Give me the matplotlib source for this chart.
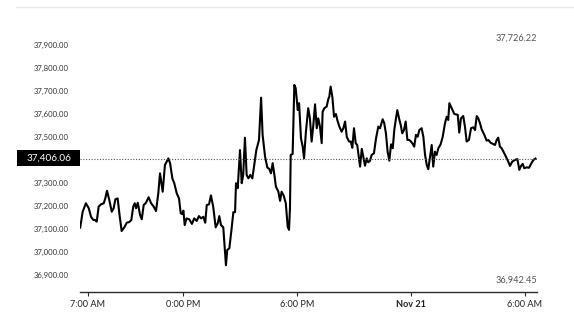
import matplotlib
matplotlib.use("Agg")
import matplotlib.pyplot as plt
from matplotlib.patches import Rectangle
from matplotlib.lines import Line2D

plt.rcParams['font.family'] = ['Lato', 'DejaVu Sans']

# hours since Nov 20 00:00
hours = [6.59, 6.72, 6.89, 7.04, 7.16, 7.28, 7.38, 7.46, 7.56, 7.68, 7.83, 7.91, 8.00, 8.12, 8.25,
         8.35, 8.44, 8.56, 8.65, 8.77, 8.91, 9.04, 9.17, 9.28, 9.38, 9.46, 9.53, 9.62, 9.74, 9.83,
         9.93, 10.05, 10.19, 10.32, 10.46, 10.58, 10.70, 10.79, 10.93, 11.05, 11.23, 11.32, 11.44,
         11.54, 11.67, 11.79, 11.88, 11.96, 12.02, 12.09, 12.19, 12.33, 12.47, 12.59, 12.72, 12.84,
         12.95, 13.07, 13.17, 13.25, 13.37, 13.47, 13.59, 13.72, 13.83, 13.91, 14.00, 14.12, 14.26,
         14.33, 14.44, 14.56, 14.65, 14.74, 14.79, 14.88, 15.00, 15.09, 15.17, 15.26, 15.35, 15.44,
         15.54, 15.65, 15.75, 15.86, 16.00, 16.11, 16.19, 16.32, 16.44, 16.54, 16.63, 16.72, 16.81,
         16.89, 17.02, 17.11, 17.19, 17.30, 17.41, 17.51, 17.58, 17.63, 17.67, 17.77, 17.86, 17.93,
         18.04, 18.11, 18.21, 18.30, 18.37, 18.47, 18.59, 18.68, 18.77, 18.86, 18.95, 19.04, 19.12,
         19.21, 19.30, 19.35, 19.44, 19.56, 19.65, 19.70, 19.77, 19.86, 19.95, 20.05, 20.12, 20.23,
         20.35, 20.44, 20.53, 20.62, 20.74, 20.83, 20.91, 21.00, 21.09, 21.17, 21.26, 21.32, 21.41,
         21.49, 21.58, 21.67, 21.75, 21.84, 21.93, 22.05, 22.16, 22.28, 22.37, 22.51, 22.59, 22.68,
         22.77, 22.86, 22.95, 23.04, 23.12, 23.21, 23.28, 23.37, 23.46, 23.54, 23.63, 23.72, 23.81,
         23.91, 24.00, 24.09, 24.17, 24.26, 24.35, 24.44, 24.56, 24.65, 24.74, 24.83, 24.91, 25.00,
         25.09, 25.17, 25.26, 25.35, 25.44, 25.56, 25.67, 25.79, 25.88, 25.96, 26.02, 26.14, 26.28,
         26.46, 26.54, 26.63, 26.75, 26.84, 26.93, 27.05, 27.16, 27.28, 27.37, 27.46, 27.54, 27.63,
         27.72, 27.86, 27.98, 28.07, 28.19, 28.30, 28.42, 28.51, 28.59, 28.68, 28.77, 28.91, 29.04,
         29.12, 29.21, 29.33, 29.47, 29.60, 29.70, 29.79, 29.88, 29.96, 30.09, 30.21, 30.32, 30.44,
         30.55]

prices = [37106, 37175, 37212, 37190, 37153, 37139, 37139, 37132, 37197, 37207, 37212, 37233, 37266, 37226, 37175,
          37190, 37229, 37233, 37168, 37091, 37107, 37127, 37130, 37139, 37197, 37212, 37190, 37214, 37161, 37142,
          37204, 37214, 37238, 37212, 37197, 37178, 37255, 37342, 37262, 37378, 37407, 37386, 37320,
          37299, 37255, 37233, 37168, 37165, 37180, 37117, 37146, 37142, 37122, 37146, 37135, 37156,
          37146, 37153, 37127, 37204, 37207, 37246, 37197, 37107, 37125, 37156, 37117, 37107, 36942.45,
          37009, 37016, 37103, 37173, 37173, 37299, 37277, 37443, 37299, 37335, 37497, 37335, 37320,
          37335, 37320, 37378, 37443, 37487, 37671, 37509, 37414, 37367, 37361, 37342, 37386, 37335,
          37284, 37262, 37222, 37262, 37245, 37212, 37110, 37096, 37190, 37422, 37426, 37726.22, 37712,
          37617, 37647, 37494, 37458, 37407, 37523, 37625, 37581, 37480, 37552, 37642, 37538, 37581,
          37545, 37473, 37610, 37625, 37632, 37665, 37675, 37719, 37675, 37588, 37600, 37574, 37545,
          37523, 37538, 37567, 37501, 37480, 37480, 37453, 37538, 37473, 37465, 37407, 37371, 37448,
          37414, 37375, 37407, 37390, 37396, 37422, 37429, 37494, 37545, 37538, 37577, 37560, 37516,
          37436, 37397, 37468, 37451, 37530, 37581, 37617, 37581, 37552, 37516, 37530, 37567, 37487,
          37487, 37480, 37470, 37458, 37509, 37501, 37530, 37538, 37501, 37422, 37378, 37360, 37414,
          37465, 37371, 37436, 37422, 37451, 37468, 37501, 37560, 37588, 37574, 37647, 37625, 37600,
          37596, 37519, 37581, 37591, 37545, 37480, 37487, 37538, 37542, 37530, 37591, 37581, 37560,
          37533, 37509, 37484, 37487, 37475, 37470, 37465, 37487, 37497, 37458, 37451, 37429, 37407,
          37393, 37374, 37393, 37400, 37404, 37357, 37374, 37383, 37364, 37368, 37366, 37383, 37400,
          37406.06]

last_price = 37406.06
high_label = "37,726.22"
low_label = "36,942.45"
ytick_vals = [36900, 37000, 37100, 37200, 37300, 37500, 37600, 37700, 37800, 37900]
xtick_hours = [7, 12, 18, 24, 30]
xtick_labels = ["7:00 AM", "0:00 PM", "6:00 PM", "Nov 21", "6:00 AM"]

W, H = 574, 322
fig = plt.figure(figsize=(W / 100, H / 100), dpi=100)
ax = fig.add_axes([80 / W, 1 - 292 / H, 457 / W, 262 / H])

ax.plot(hours, prices, color="black", lw=1.5, solid_joinstyle="round")
ax.axhline(last_price, color="#555555", lw=0.8, ls=(0, (1, 1.5)))

ax.set_xlim(6.579, 30.632)
ax.set_ylim(36826, 37965)

for s in ["left", "right", "top"]:
    ax.spines[s].set_visible(False)
ax.spines["bottom"].set_color("#2a2a3a")
ax.spines["bottom"].set_linewidth(1.0)

ax.set_yticks(ytick_vals)
ax.set_yticklabels([f"{v:,.2f}" for v in ytick_vals], fontsize=5.6, color="#333333")
ax.tick_params(axis="y", length=0, pad=8)

ax.set_xticks(xtick_hours)
ax.set_xticklabels(xtick_labels, fontsize=6.6, color="#222222")
ax.tick_params(axis="x", length=3, width=0.8, color="#2a2a3a", pad=3)
ax.get_xticklabels()[3].set_fontweight("bold")

# last price tag
fig.patches.append(Rectangle((17 / W, 1 - 166 / H), 63 / W, 16 / H, transform=fig.transFigure,
                             facecolor="black", edgecolor="none"))
fig.text(48.5 / W, 1 - 158 / H, f"{last_price:,.2f}", color="white", fontsize=7.2,
         ha="center", va="center")

fig.text(537 / W, 1 - 38 / H, high_label, color="#555555", fontsize=6.6, ha="right", va="center")
fig.text(537 / W, 1 - 280 / H, low_label, color="#555555", fontsize=6.6, ha="right", va="center")

# faint top rule
fig.lines.append(Line2D([16 / W, 1.0], [1 - 7 / H, 1 - 7 / H], transform=fig.transFigure,
                        color="#e8e8e8", lw=1))

fig.savefig("out.png", dpi=100)
